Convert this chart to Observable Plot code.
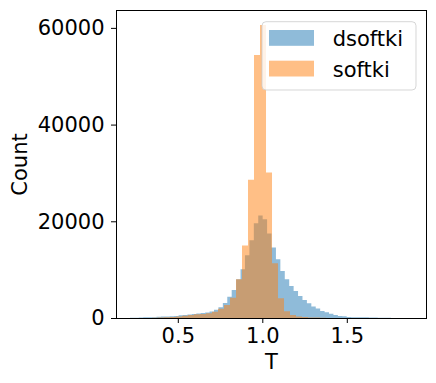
<!DOCTYPE html>
<html><head><meta charset="utf-8">
<script src="https://cdn.jsdelivr.net/npm/d3@7"></script>
<script src="https://cdn.jsdelivr.net/npm/@observablehq/plot@0.6"></script>
<style>
body{margin:0;background:#fff;}
#wrap{position:relative;width:436px;height:383px;}
#wrap svg.overlay{position:absolute;left:0;top:0;}
</style></head><body><div id="wrap"></div>
<script>
const series = ["dsoftki", "softki"];
const colors = ["#1f77b4", "#ff7f0e"];

// dsoftki histogram: 64 bins
const dsoftkiStart = 0.217, dsoftkiWidth = 0.02617;
const dsoftkiCounts = [30, 70, 120, 130, 150, 160, 250, 290, 330, 380, 420, 550, 620, 700, 850, 950,
  1050, 1150, 1350, 1700, 2200, 3100, 4400, 5800, 8000, 10100, 13000, 16100, 19600, 21200, 20400,
  17500, 14600, 12150, 9700, 8000, 6600, 5560, 4530, 3700, 3030, 2370, 1960, 1440, 1170, 890, 620,
  410, 350, 200, 180, 170, 150, 140, 120, 90, 70, 50, 35, 25, 15, 10, 5, 2];

// softki histogram
const softkiStart = 0.3474, softkiWidth = 0.0355;
const softkiCounts = [40, 80, 130, 200, 300, 450, 600, 750, 850, 1000, 1300, 1900, 2700, 4200, 8000,
  15000, 28600, 54400, 60600, 30100, 11300, 4100, 1400, 600, 300, 200, 120, 80, 40, 20];

const xTicks = [0.5, 1.0, 1.5];
const yTicks = [0, 20000, 40000, 60000];

function steps(start, width, counts) {
  const pts = counts.map((c, i) => ({x: start + i * width, y: c}));
  pts.push({x: start + counts.length * width, y: 0});
  return pts;
}

const chart = Plot.plot({
  width: 436, height: 383,
  marginLeft: 116, marginRight: 10, marginTop: 10, marginBottom: 65,
  style: {fontFamily: "DejaVu Sans", fontSize: "21px", color: "black", background: "white"},
  x: {domain: [0.1343, 1.9686]},
  y: {domain: [0, 63700]},
  marks: [
    Plot.areaY(steps(dsoftkiStart, dsoftkiWidth, dsoftkiCounts), {x: "x", y: "y", curve: "step-after", fill: colors[0], fillOpacity: 0.5}),
    Plot.areaY(steps(softkiStart, softkiWidth, softkiCounts), {x: "x", y: "y", curve: "step-after", fill: colors[1], fillOpacity: 0.5}),
    Plot.frame({stroke: "black", strokeWidth: 1}),
    Plot.axisX({ticks: xTicks, tickFormat: d3.format(".1f"), tickSize: 5, tickPadding: 5, label: "T", labelAnchor: "center", labelArrow: "none", labelOffset: 50}),
    Plot.axisY({ticks: yTicks, tickFormat: d3.format("d"), tickSize: 5, tickPadding: 7, label: "Count", labelAnchor: "center", labelArrow: "none", labelOffset: 104})
  ]
});
const wrap = document.getElementById("wrap");
wrap.appendChild(chart);

// legend overlay
const svg = d3.select(wrap).append("svg").attr("class", "overlay")
  .attr("width", 436).attr("height", 383)
  .style("font-family", "DejaVu Sans").style("font-size", "21px");
svg.append("rect").attr("x", 262).attr("y", 21.7).attr("width", 154).attr("height", 68.3).attr("rx", 4)
  .attr("fill", "white").attr("fill-opacity", 0.8).attr("stroke", "#cccccc").attr("stroke-opacity", 0.8);
series.forEach((s, i) => {
  const y0 = i === 0 ? 30 : 60.7;
  svg.append("rect").attr("x", 269).attr("y", y0).attr("width", 45).attr("height", 15.8)
    .attr("fill", colors[i]).attr("fill-opacity", 0.5);
  svg.append("text").attr("x", 332.7).attr("y", i === 0 ? 46 : 76.7).attr("fill", "black").text(s);
});
</script></body></html>
